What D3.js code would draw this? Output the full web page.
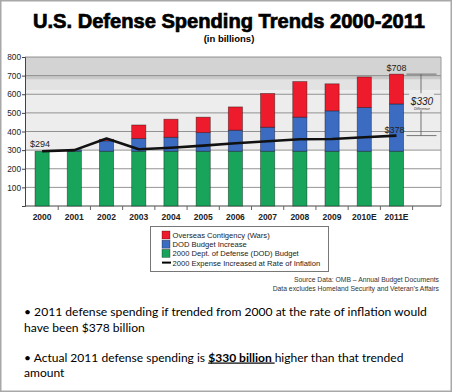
<!DOCTYPE html>
<html><head><meta charset="utf-8">
<script src="https://cdn.jsdelivr.net/npm/d3@7"></script>
<style>
html,body{margin:0;padding:0;background:#fff;}
svg{display:block;}
</style></head>
<body>
<svg id="c" width="452" height="392"></svg>
<script>
const years = ['2000','2001','2002','2003','2004','2005','2006','2007','2008','2009','2010E','2011E'];
const baseBudget = [294,294,294,294,294,294,294,294,294,294,294,294];
const dodIncrease = [0,8,56,68,75,100,113,129,183,217,235,254];
const overseas = [0,0,8,73,97,83,125,181,191,145,164,160];
const inflation = [294,300,362,305,313,324,337,348,358,360,369,378];
const yTicks = [100,200,300,400,500,600,700,800];
const legendItems = ['Overseas Contigency (Wars)','DOD Budget Increase','2000 Dept. of Defense (DOD) Budget','2000 Expense Increased at Rate of Inflation'];
const colors = {red:'#ee1b2c', blue:'#3b6cc2', green:'#18a45a'};

const svg = d3.select('#c');
// outer frame
svg.append('rect').attr('x',0.75).attr('y',0.75).attr('width',450.5).attr('height',390.5)
  .attr('fill','#fff').attr('stroke','#a8a8a8').attr('stroke-width',1.5);

// title
svg.append('text').attr('x',229).attr('y',28).attr('text-anchor','middle')
  .attr('font-family','Liberation Sans, Arial, sans-serif').attr('font-weight','bold')
  .attr('font-size',20).attr('stroke','#000').attr('stroke-width',0.7)
  .attr('textLength',392).attr('lengthAdjust','spacingAndGlyphs')
  .text('U.S. Defense Spending Trends 2000-2011');
svg.append('text').attr('x',229).attr('y',42).attr('text-anchor','middle')
  .attr('font-family','Liberation Sans, Arial, sans-serif').attr('font-weight','bold')
  .attr('font-size',9.5).text('(in billions)');

const left=25, right=441;
const y = d3.scaleLinear().domain([0,800]).range([206,57]);
const x = d3.scaleBand().domain(years).range([26,412.6]).paddingInner(0.56).paddingOuter(0.28);

// background bands
const g = svg.append('g');
const bands = [[800,700,'#d3d3d3'],[700,678,'#c9c9c9'],[678,620,'#e2e2e2'],[620,300,'#ededed']];
g.selectAll('rect.bg').data(bands).join('rect').attr('class','bg')
  .attr('x',left).attr('width',right-left)
  .attr('y',d=>y(d[0])).attr('height',d=>y(d[1])-y(d[0])).attr('fill',d=>d[2]);

// gridlines
g.selectAll('line.grid').data(yTicks).join('line').attr('class','grid')
  .attr('x1',left).attr('x2',right).attr('y1',d=>y(d)).attr('y2',d=>y(d))
  .attr('stroke','#7a7a7a').attr('stroke-width',0.8);
g.append('line').attr('x1',right).attr('x2',right).attr('y1',y(800)).attr('y2',y(0)).attr('stroke','#9a9a9a');

// y axis
const yAxis = d3.axisLeft(y).tickValues(yTicks).tickSize(3).tickFormat(d3.format('d'));
const ya = svg.append('g').attr('transform',`translate(${left},0)`).call(yAxis);
ya.select('.domain').attr('stroke','#444');
ya.selectAll('.tick line').attr('stroke','#444');
ya.selectAll('text').attr('font-family','Liberation Sans, Arial, sans-serif').attr('font-size',8.3).attr('fill','#222').attr('x',-4);

// x axis baseline
svg.append('line').attr('x1',left).attr('x2',right).attr('y1',y(0)).attr('y2',y(0)).attr('stroke','#444');
const step = x.step();
const boundaries = years.map(d=>x(d)+x.bandwidth()/2+step/2);
svg.selectAll('line.xt').data(boundaries).join('line').attr('class','xt')
  .attr('x1',d=>d).attr('x2',d=>d).attr('y1',y(0)).attr('y2',y(0)+4).attr('stroke','#666');
svg.selectAll('text.xl').data(years).join('text').attr('class','xl')
  .attr('x',d=>x(d)+x.bandwidth()/2).attr('y',220).attr('text-anchor','middle')
  .attr('font-family','Liberation Sans, Arial, sans-serif').attr('font-weight','bold').attr('font-size',8.5)
  .attr('fill','#222').text(d=>d);

// stacked bars
const rows = years.map((yr,i)=>({year:yr, green:baseBudget[i], blue:dodIncrease[i], red:overseas[i]}));
const stack = d3.stack().keys(['green','blue','red'])(rows);
const bars = svg.append('g');
stack.forEach(layer=>{
  bars.selectAll(null).data(layer.filter(d=>d[1]>d[0])).join('rect')
    .attr('x',d=>x(d.data.year)).attr('width',x.bandwidth())
    .attr('y',d=>y(d[1])).attr('height',d=>y(d[0])-y(d[1]))
    .attr('fill',colors[layer.key]).attr('stroke','rgba(0,0,0,0.45)').attr('stroke-width',0.8);
});

// inflation line
const line = d3.line().x((d,i)=>x(years[i])+x.bandwidth()/2).y(d=>y(d));
svg.append('path').datum(inflation).attr('d',line).attr('fill','none')
  .attr('stroke','#111').attr('stroke-width',2.6).attr('stroke-linejoin','round');

const ff='Liberation Sans, Arial, sans-serif';
svg.append('text').attr('x',x(years[0])+x.bandwidth()/2-2).attr('y',y(inflation[0])-4).attr('text-anchor','middle')
  .attr('font-family',ff).attr('font-size',9).attr('fill','#222').text('$'+inflation[0]);
const lastX = x(years[11])+x.bandwidth()/2;
const total11 = baseBudget[11]+dodIncrease[11]+overseas[11];
svg.append('text').attr('x',lastX).attr('y',y(total11)-3).attr('text-anchor','middle')
  .attr('font-family',ff).attr('font-size',9).attr('fill','#222').text('$'+total11);
svg.append('text').attr('x',lastX-2).attr('y',y(inflation[11])-3).attr('text-anchor','middle')
  .attr('font-family',ff).attr('font-size',9).attr('fill','#222').text('$'+inflation[11]);
const ax1 = lastX+10, ax2 = lastX+40, axm = lastX+24.5;
[total11, inflation[11]].forEach(v=>{
  svg.append('line').attr('x1',ax1).attr('x2',ax2).attr('y1',y(v)).attr('y2',y(v)).attr('stroke','#555').attr('stroke-width',0.8);
});
svg.append('line').attr('x1',axm).attr('x2',axm).attr('y1',y(total11)).attr('y2',y(inflation[11])).attr('stroke','#555').attr('stroke-width',0.8);
svg.append('rect').attr('x',axm-12).attr('y',y(total11)+19).attr('width',25).attr('height',17).attr('fill','#ececec');
svg.append('text').attr('x',axm+1).attr('y',y(total11)+31).attr('text-anchor','middle')
  .attr('font-family',ff).attr('font-style','italic').attr('font-size',10).attr('fill','#222').text('$'+(total11-inflation[11]));
svg.append('text').attr('x',axm+1).attr('y',y(total11)+35.5).attr('text-anchor','middle')
  .attr('font-family',ff).attr('font-style','italic').attr('font-size',3.5).attr('fill','#333').text('Difference');

// legend
const lg = svg.append('g').attr('transform','translate(150,226)');
lg.append('rect').attr('x',0.5).attr('y',0.5).attr('width',178).attr('height',45).attr('fill','#fff').attr('stroke','#777');
const swc = [colors.red, colors.blue, colors.green, null];
legendItems.forEach((t,i)=>{
  const cy = 9+i*9.2;
  if (swc[i]) lg.append('rect').attr('x',12).attr('y',cy-4).attr('width',8).attr('height',8).attr('fill',swc[i]).attr('stroke','rgba(0,0,0,0.5)').attr('stroke-width',0.6);
  else lg.append('line').attr('x1',12).attr('x2',21).attr('y1',cy).attr('y2',cy).attr('stroke','#000').attr('stroke-width',2);
  lg.append('text').attr('x',22.5).attr('y',cy+3).attr('font-family',ff).attr('font-size',7.6).attr('fill','#222').text(t);
});

// source
svg.append('text').attr('x',439).attr('y',281.5).attr('text-anchor','end').attr('font-family',ff).attr('font-size',6.8).attr('fill','#333')
  .text('Source Data: OMB – Annual Budget Documents');
svg.append('text').attr('x',439).attr('y',290.5).attr('text-anchor','end').attr('font-family',ff).attr('font-size',6.8).attr('fill','#333')
  .text('Data excludes Homeland Security and Veteran’s Affairs');

// bullets
const bf = 'Lato, Open Sans, sans-serif';
function fitText(sel, target){
  const w = sel.node().getBBox().width;
  const fs = 13*target/w;
  sel.attr('font-size',fs);
}
const b1a = svg.append('text').attr('font-family',bf).attr('font-size',13).attr('fill','#000').attr('x',24).attr('y',316)
  .text('•  2011 defense spending if trended from 2000 at the rate of inflation would');
fitText(b1a, 403);
const fs1 = +b1a.attr('font-size');
svg.append('text').attr('font-family',bf).attr('font-size',fs1).attr('fill','#000').attr('x',24).attr('y',331.5).text('have been $378 billion');
const b2 = svg.append('text').attr('font-family',bf).attr('font-size',13).attr('fill','#000').attr('x',24).attr('y',361.5);
b2.append('tspan').text('• Actual 2011 defense spending is ');
b2.append('tspan').attr('font-weight','bold').attr('text-decoration','underline').text('$330 billion ');
b2.append('tspan').text('higher than that trended');
fitText(b2, 380);
svg.append('text').attr('font-family',bf).attr('font-size',b2.attr('font-size')).attr('fill','#000').attr('x',24).attr('y',377).text('amount');
</script>
</body></html>
